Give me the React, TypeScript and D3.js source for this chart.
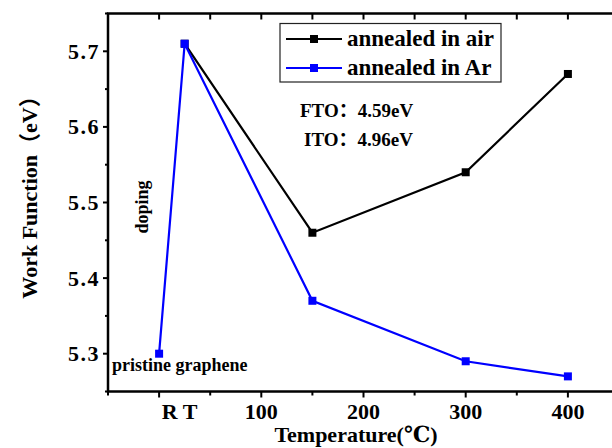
import React, { useEffect, useRef } from "react";
import * as d3 from "d3";

// data
const airTemps = [25, 150, 300, 400];
const airWork = [5.71, 5.46, 5.54, 5.67];
const arTemps = [0, 25, 150, 300, 400];
const arWork = [5.3, 5.71, 5.37, 5.29, 5.27];

const xTickValues = [0, 100, 200, 300, 400];
const xTickLabels = ["", "100", "200", "300", "400"];
const rtLabelAt = 20;
const yTickValues = [5.3, 5.4, 5.5, 5.6, 5.7];
const seriesNames = ["annealed in air", "annealed in Ar"];
const seriesColors = ["#000000", "#0000ff"];
const notes = ["FTO：4.59eV", "ITO：4.96eV"];

const FONT = "Liberation Serif, DejaVu Serif, serif, Noto Sans CJK SC";

const App = () => {
  const svgRef = useRef(null);

  useEffect(() => {
    const width = 612;
    const height = 448;
    const svg = d3.select(svgRef.current);
    svg.selectAll("*").remove();

    const x = d3.scaleLinear().domain([-50, 450]).range([108, 619]);
    const y = d3.scaleLinear().domain([5.25, 5.75]).range([391.5, 13.5]);

    svg.attr("width", width).attr("height", height);
    svg.append("rect").attr("width", width).attr("height", height).attr("fill", "#fff");

    const txt = (s, px, py, size, anchor = "start") =>
      svg.append("text")
        .attr("x", px).attr("y", py)
        .style("font-family", FONT)
        .style("font-weight", "bold")
        .style("font-size", size + "px")
        .attr("text-anchor", anchor)
        .text(s);

    // frame
    svg.append("rect")
      .attr("x", x(-50)).attr("y", y(5.75))
      .attr("width", x(450) - x(-50)).attr("height", y(5.25) - y(5.75))
      .attr("fill", "none").attr("stroke", "#000").attr("stroke-width", 2.5);

    // bottom ticks go out, top ticks go in
    d3.range(-50, 451, 50).forEach((v) => {
      const major = v % 100 === 0;
      svg.append("line")
        .attr("x1", x(v)).attr("x2", x(v))
        .attr("y1", y(5.25)).attr("y2", y(5.25) + (major ? 6 : 4))
        .attr("stroke", "#000").attr("stroke-width", 2);
      svg.append("line")
        .attr("x1", x(v)).attr("x2", x(v))
        .attr("y1", y(5.75)).attr("y2", y(5.75) + 6)
        .attr("stroke", "#000").attr("stroke-width", 2);
    });

    // left ticks (outward)
    d3.range(5.25, 5.751, 0.05).forEach((v) => {
      const major = yTickValues.some((t) => Math.abs(t - v) < 1e-6);
      svg.append("line")
        .attr("x1", x(-50)).attr("x2", x(-50) - (major ? 5 : 3))
        .attr("y1", y(v)).attr("y2", y(v))
        .attr("stroke", "#000").attr("stroke-width", 2);
    });

    xTickValues.forEach((v, i) => {
      txt(xTickLabels[i], x(v), 419, 22, "middle");
    });
    txt("R T", x(rtLabelAt), 419, 22, "middle");

    yTickValues.forEach((v) => {
      txt(v.toFixed(1), 100, y(v) + 7.5, 22, "end").style("letter-spacing", "1.5px");
    });

    txt("Temperature(℃)", 356, 442, 22, "middle");
    txt("Work Function（eV）", 0, 0, 22, "middle")
      .attr("transform", `translate(37,192) rotate(-90)`);

    // series
    const line = d3.line().x((d) => x(d[0])).y((d) => y(d[1]));
    const series = [d3.zip(airTemps, airWork), d3.zip(arTemps, arWork)];
    series.forEach((pts, i) => {
      svg.append("path")
        .attr("d", line(pts))
        .attr("fill", "none")
        .attr("stroke", seriesColors[i])
        .attr("stroke-width", 2.2);
      svg.selectAll(null)
        .data(pts)
        .enter()
        .append("rect")
        .attr("x", (d) => x(d[0]) - 4)
        .attr("y", (d) => y(d[1]) - 4)
        .attr("width", 8).attr("height", 8)
        .attr("fill", seriesColors[i]);
    });

    // annotations
    txt("doping", 0, 0, 18, "middle").attr("transform", "translate(148,207) rotate(-90)");
    txt("pristine graphene", 112, 371, 18);
    txt(notes[0], 300, 117, 19);
    txt(notes[1], 304, 146, 19);

    // legend
    svg.append("rect")
      .attr("x", 280).attr("y", 23.5).attr("width", 221).attr("height", 58.5)
      .attr("fill", "#fff").attr("stroke", "#222").attr("stroke-width", 1.2);
    seriesNames.forEach((name, i) => {
      const ly = 39 + i * 29;
      svg.append("line")
        .attr("x1", 286).attr("x2", 342).attr("y1", ly).attr("y2", ly)
        .attr("stroke", seriesColors[i]).attr("stroke-width", 2.2);
      svg.append("rect")
        .attr("x", 310).attr("y", ly - 4).attr("width", 8).attr("height", 8)
        .attr("fill", seriesColors[i]);
      txt(name, 347, ly + 7, 23);
    });
  }, []);

  return (
    <svg ref={svgRef} style={{ position: "absolute", left: 0, top: 0, display: "block" }}></svg>
  );
};

export default App;
